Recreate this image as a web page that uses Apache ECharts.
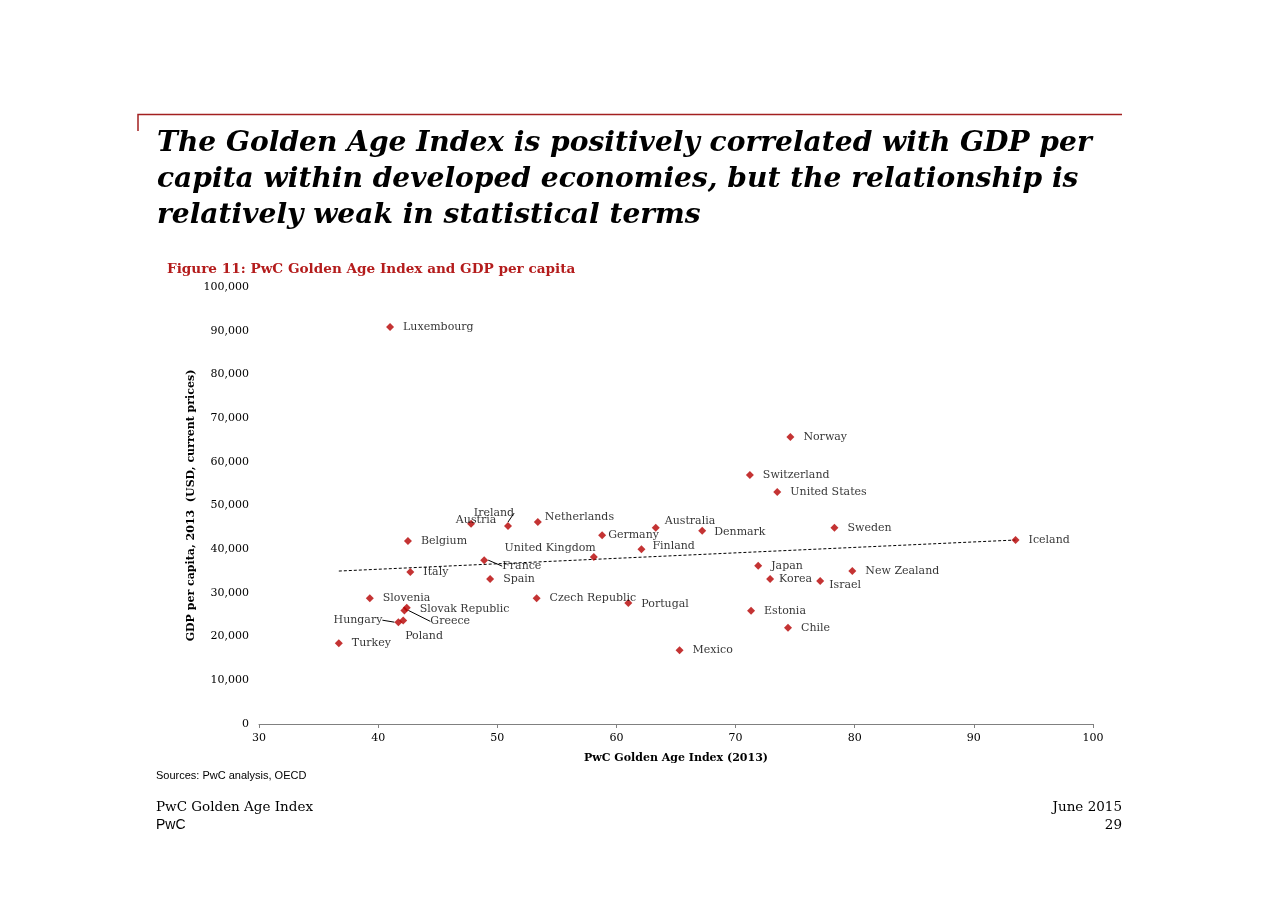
<!DOCTYPE html>
<html>
<head>
<meta charset="utf-8">
<style>html,body{margin:0;padding:0;background:#fff;}#main{width:1280px;height:905px;}</style>
<script src="https://cdn.jsdelivr.net/npm/echarts@6/dist/echarts.min.js"></script>
</head>
<body>
<div id="main"></div>
<script>
// ---- data ----
var countries = ['Luxembourg','Norway','Switzerland','United States','Sweden','Iceland','Denmark','Australia','Finland','Germany','Netherlands','Ireland','Austria','Belgium','United Kingdom','France','Spain','Italy','Slovenia','Slovak Republic','Greece','Poland','Hungary','Turkey','Czech Republic','Portugal','Mexico','Japan','Korea','Israel','New Zealand','Estonia','Chile'];
var goldenAgeIndex = [41.0,74.6,71.2,73.5,78.3,93.5,67.2,63.3,62.1,58.8,53.4,50.9,47.8,42.5,58.1,48.9,49.4,42.7,39.3,42.4,42.2,42.1,41.7,36.7,53.3,61.0,65.3,71.9,72.9,77.1,79.8,71.3,74.4];
var gdpPerCapita = [90850,65700,57000,53100,44900,42100,44200,44900,40000,43200,46200,45300,45800,41900,38200,37500,33200,34800,28800,26600,26000,23700,23300,18500,28800,27700,16900,36200,33200,32700,35000,25900,22000];
var trendX = [36.7, 93.5];
var trendY = [35000, 42100];
var xTicks = {min: 30, max: 100, interval: 10};
var yTicks = {min: 0, max: 100000, interval: 10000};

// ---- label placement (styling only) ----
var labelAdjust = {
  'Austria': {dx: 5, dy: -4, align: 'center'},
  'Ireland': {dx: -14, dy: -13, align: 'center', line: [[-6,-6],[0,-6],[0,-3]]},
  'France': {dx: 18, dy: 6, line: [[1,1],[6,5],[16,6]]},
  'United Kingdom': {dx: 2, dy: -9, align: 'right'},
  'Germany': {dx: 6, dy: 0},
  'Finland': {dx: 11, dy: -3},
  'Australia': {dx: 9, dy: -7},
  'Denmark': {dx: 12, dy: 1},
  'Netherlands': {dx: 7, dy: -5},
  'Israel': {dx: 9, dy: 4},
  'Korea': {dx: 9, dy: 0},
  'Greece': {dx: 26, dy: 11, line: [[3,2],[12,8],[22,11]]},
  'Hungary': {dx: -16, dy: -2, align: 'right', line: [[-12,-3],[-5,-3],[0,0]]},
  'Poland': {dx: 2, dy: 16},
  'Slovak Republic': {dx: 13, dy: 1},
  'Portugal': {dx: 13, dy: 1}
};

var serif = '"DejaVu Serif", serif';
var sans = '"Liberation Sans", Arial, sans-serif';

var points = countries.map(function (c, i) {
  var item = {name: c, value: [goldenAgeIndex[i], gdpPerCapita[i]]};
  if (labelAdjust[c] && labelAdjust[c].line) {
    item.labelLine = {show: true, lineStyle: {color: '#000', width: 1}};
  }
  return item;
});

var chart = echarts.init(document.getElementById('main'), null, {renderer: 'canvas'});
chart.setOption({
  backgroundColor: '#fff',
  animation: false,
  title: [
    {
      text: 'The Golden Age Index is positively correlated with GDP per\ncapita within developed economies, but the relationship is\nrelatively weak in statistical terms',
      left: 152, top: 121,
      textStyle: {fontFamily: serif, fontWeight: 'bold', fontStyle: 'italic', fontSize: 28.1, lineHeight: 36, color: '#000'}
    },
    {
      text: 'Figure 11: PwC Golden Age Index and GDP per capita',
      left: 162, top: 257,
      textStyle: {fontFamily: serif, fontWeight: 'bold', fontSize: 13.6, color: '#b41c1c'}
    }
  ],
  graphic: [
    {type: 'polyline', shape: {points: [[138, 131], [138, 114.5], [1122, 114.5]]}, style: {stroke: '#a32020', lineWidth: 1.5, fill: null}},
    {type: 'text', left: 156, top: 770, style: {text: 'Sources: PwC analysis, OECD', font: '11px ' + sans, fill: '#000'}},
    {type: 'text', left: 156, top: 800, style: {text: 'PwC Golden Age Index', font: '13.5px ' + serif, fill: '#000'}},
    {type: 'text', left: 156, top: 818, style: {text: 'PwC', font: '14px ' + sans, fill: '#000'}},
    {type: 'text', right: 158, top: 800, style: {text: 'June 2015', font: '13.5px ' + serif, fill: '#000', textAlign: 'right'}},
    {type: 'text', right: 158, top: 818, style: {text: '29', font: '13.5px ' + serif, fill: '#000', textAlign: 'right'}}
  ],
  grid: {left: 259, right: 187, top: 287, bottom: 181, containLabel: false},
  xAxis: {
    type: 'value', min: xTicks.min, max: xTicks.max, interval: xTicks.interval,
    name: 'PwC Golden Age Index (2013)', nameLocation: 'middle', nameGap: 29,
    nameTextStyle: {fontFamily: serif, fontWeight: 'bold', fontSize: 11, color: '#000'},
    axisLine: {show: true, onZero: false, lineStyle: {color: '#808080', width: 1}},
    axisTick: {show: true, length: 4, lineStyle: {color: '#808080'}},
    axisLabel: {fontFamily: serif, fontSize: 11, color: '#000', margin: 9},
    splitLine: {show: false}
  },
  yAxis: {
    type: 'value', min: yTicks.min, max: yTicks.max, interval: yTicks.interval,
    name: 'GDP per capita, 2013  (USD, current prices)', nameLocation: 'middle', nameGap: 62,
    nameMoveOverlap: false,
    nameTextStyle: {fontFamily: serif, fontWeight: 'bold', fontSize: 11, color: '#000'},
    axisLine: {show: false}, axisTick: {show: false},
    axisLabel: {fontFamily: serif, fontSize: 11, color: '#000', margin: 10,
      formatter: function (v) { return v.toString().replace(/\B(?=(\d{3})+(?!\d))/g, ','); }},
    splitLine: {show: false}
  },
  series: [
    {
      type: 'line', data: trendX.map(function (x, i) { return [x, trendY[i]]; }),
      symbol: 'none', silent: true, z: 1,
      lineStyle: {color: '#000', width: 1, type: [3, 2]}
    },
    {
      type: 'scatter', data: points, symbol: 'diamond', symbolSize: 8, z: 3,
      itemStyle: {color: '#b50000'},
      label: {show: true, position: 'right', distance: 9, formatter: '{b}',
        fontFamily: serif, fontSize: 11, color: '#000'},
      labelLayout: function (p) {
        var c = countries[p.dataIndex];
        var a = labelAdjust[c];
        var cx = p.rect.x + p.rect.width / 2, cy = p.rect.y + p.rect.height / 2;
        var adj = a || {dx: 13, dy: 0};
        var out = {x: cx + adj.dx, y: cy + adj.dy, align: adj.align || 'left', verticalAlign: 'middle'};
        if (a && a.line) {
          out.labelLinePoints = a.line.map(function (q) { return [cx + q[0], cy + q[1]]; });
        }
        return out;
      }
    }
  ]
});
</script>
</body>
</html>
